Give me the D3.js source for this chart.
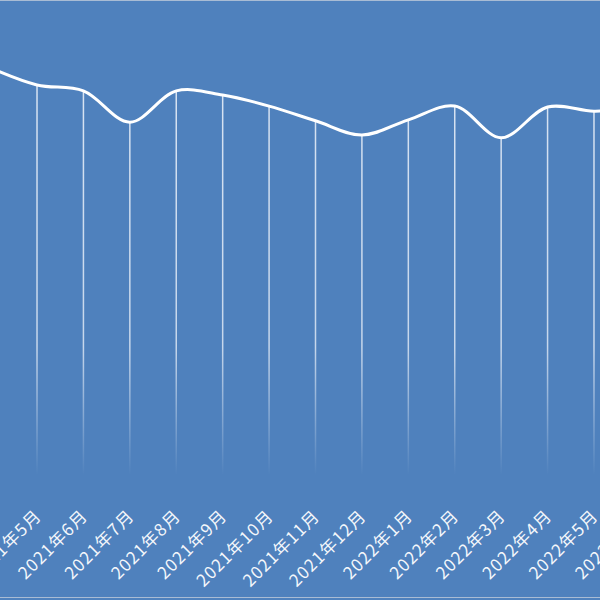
<!DOCTYPE html>
<html>
<head>
<meta charset="utf-8">
<script src="https://cdn.jsdelivr.net/npm/d3@7"></script>
<style>
  html, body { margin: 0; padding: 0; background: #4f81bd; }
  svg { display: block; }
</style>
</head>
<body>
<script>
// months shown on the x axis
const months = [
  "2021年4月", "2021年5月", "2021年6月", "2021年7月", "2021年8月",
  "2021年9月", "2021年10月", "2021年11月", "2021年12月", "2022年1月",
  "2022年2月", "2022年3月", "2022年4月", "2022年5月", "2022年6月"
];
// series values
const values = [
  88.5, 84.8, 83.5, 76.7, 83.5,
  82.6, 80.2, 77.0, 73.9, 77.2,
  80.2, 73.3, 80.0, 79.1, 79.8
];

const width = 600, height = 600;

const svg = d3.select("body").append("svg")
    .attr("width", width)
    .attr("height", height);

svg.append("rect")
    .attr("width", width)
    .attr("height", height)
    .attr("fill", "#4f81bd");

// the chart is wider than the window; only the middle part shows
const x = d3.scalePoint()
    .domain(months)
    .range([-9.4, 640.4]);

const y = d3.scaleLinear()
    .domain([0, 100])
    .range([475, 15]);

const data = months.map((m, i) => ({ month: m, value: values[i] }));

// gradient for the drop lines
const grad = svg.append("defs").append("linearGradient")
    .attr("id", "drop")
    .attr("gradientUnits", "userSpaceOnUse")
    .attr("x1", 0).attr("x2", 0)
    .attr("y1", y(100)).attr("y2", y(0));
grad.append("stop").attr("offset", "0%").attr("stop-color", "#e4ecf7").attr("stop-opacity", 0.95);
grad.append("stop").attr("offset", "72%").attr("stop-color", "#e4ecf7").attr("stop-opacity", 0.8);
grad.append("stop").attr("offset", "100%").attr("stop-color", "#e4ecf7").attr("stop-opacity", 0);

svg.append("g")
    .selectAll("line")
    .data(data)
    .join("line")
    .attr("x1", d => x(d.month))
    .attr("x2", d => x(d.month))
    .attr("y1", d => y(d.value))
    .attr("y2", y(0))
    .attr("stroke", "url(#drop)")
    .attr("stroke-width", 1.5);

// smoothed line
const line = d3.line()
    .x(d => x(d.month))
    .y(d => y(d.value))
    .curve(d3.curveCatmullRom.alpha(0.5));

svg.append("path")
    .datum(data)
    .attr("fill", "none")
    .attr("stroke", "#ffffff")
    .attr("stroke-width", 3)
    .attr("d", line);

// x axis labels, rotated
const axis = svg.append("g")
    .attr("transform", "translate(0," + y(0) + ")")
    .call(d3.axisBottom(x).tickSize(0).tickPadding(0));

axis.select(".domain").remove();

axis.selectAll(".tick text")
    .attr("fill", "#f4f7fb")
    .attr("font-family", "'Noto Sans CJK SC', 'Noto Sans', sans-serif")
    .attr("font-size", 17)
    .attr("letter-spacing", 1.2)
    .attr("text-anchor", "end")
    .attr("dy", 0)
    .attr("y", 0)
    .attr("transform", "translate(5,42) rotate(-45)");

// thin frame lines at top and bottom
svg.append("line")
    .attr("x1", 0).attr("x2", width)
    .attr("y1", 0.5).attr("y2", 0.5)
    .attr("stroke", "#a9bcd4");
svg.append("line")
    .attr("x1", 0).attr("x2", width)
    .attr("y1", 597.5).attr("y2", 597.5)
    .attr("stroke", "#a9bcd4");
</script>
</body>
</html>
